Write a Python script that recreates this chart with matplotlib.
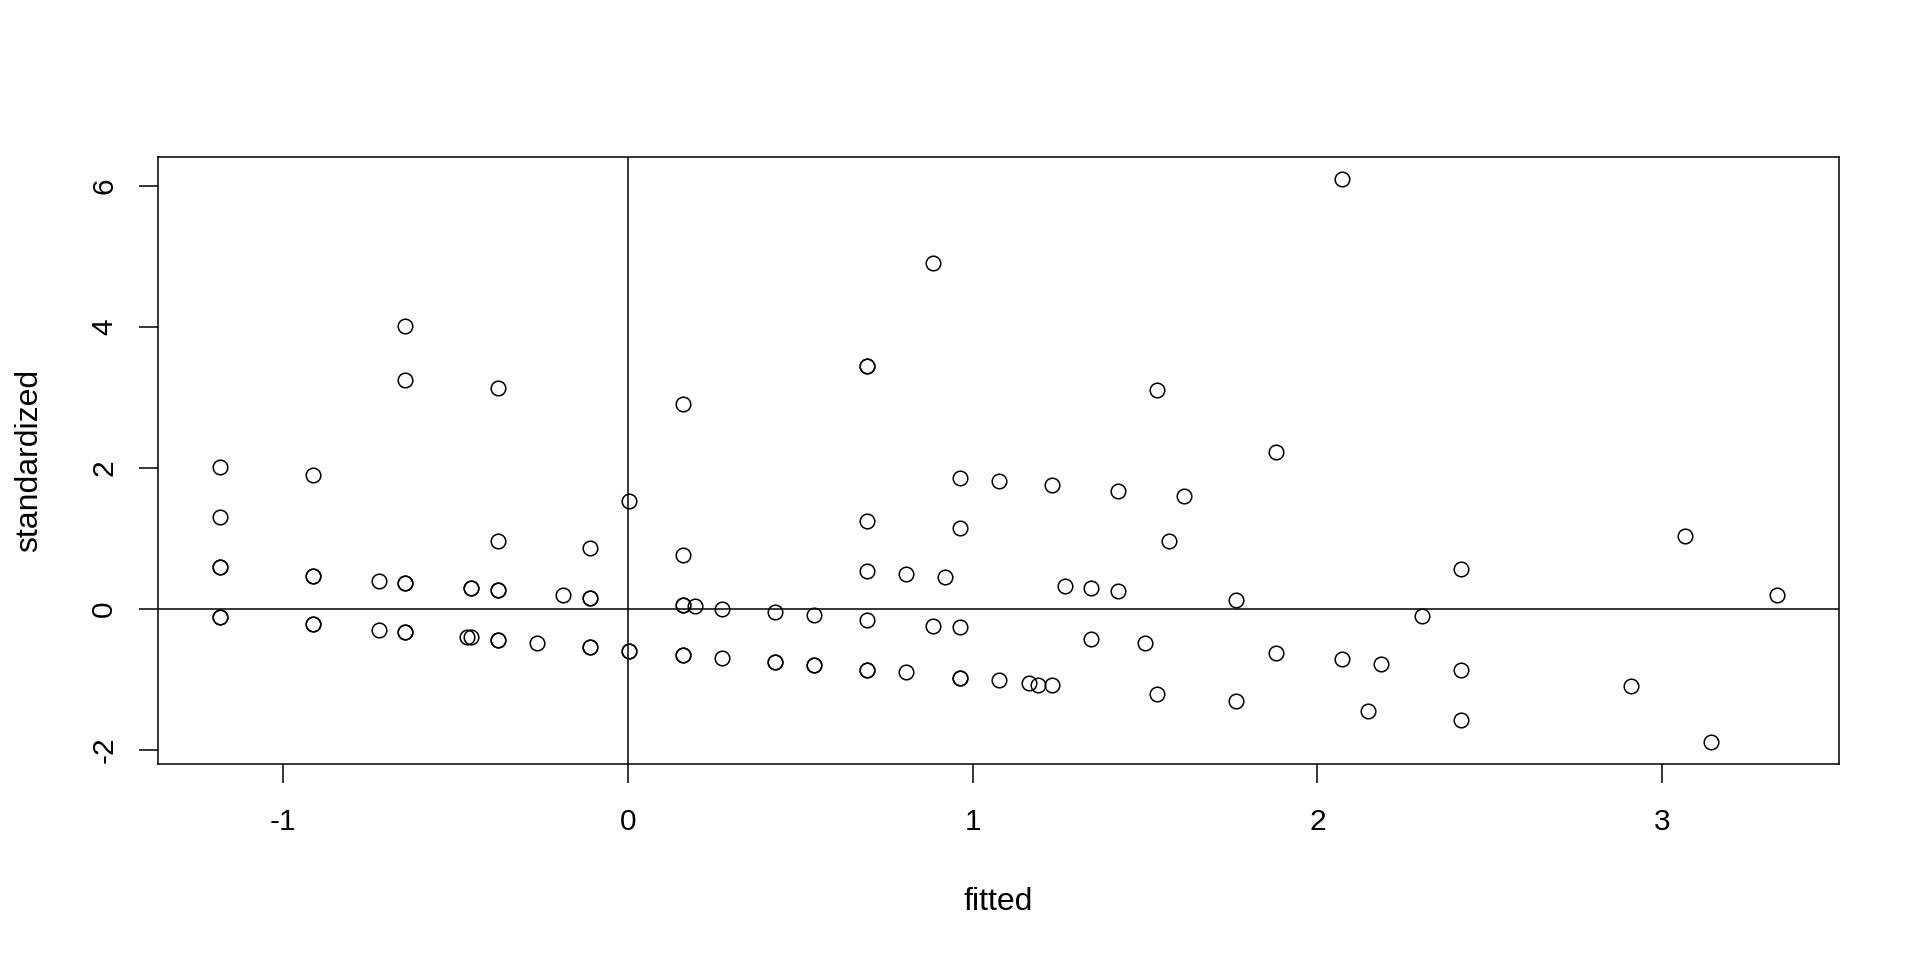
import numpy as np
import matplotlib
matplotlib.use("Agg")
import matplotlib.pyplot as plt

plt.rcParams['font.family'] = ['Liberation Sans', 'DejaVu Sans']

# ---------- data (repeated pairs = overplotted points) ----------
fitted = [
    -1.182, -1.182, -1.182, -1.182, -1.182, -1.182,
    -0.913, -0.913, -0.913, -0.913, -0.913,
    -0.723, -0.723,
    -0.646, -0.646, -0.646, -0.646, -0.646, -0.646,
    -0.456, -0.456, -0.466, -0.454,
    -0.377, -0.377, -0.377, -0.377, -0.377, -0.377,
    -0.264, -0.188,
    -0.109, -0.109, -0.109, -0.109, -0.109,
    0.003, 0.003, 0.003,
    0.159, 0.159, 0.159, 0.159, 0.159, 0.159,
    0.195, 0.272, 0.272,
    0.426, 0.426, 0.426,
    0.540, 0.540, 0.540,
    0.694, 0.694, 0.694, 0.694, 0.694, 0.694, 0.694,
    0.808, 0.808, 0.886, 0.886, 0.921,
    0.962, 0.962, 0.962, 0.962, 0.962,
    1.077, 1.077, 1.164, 1.189, 1.231, 1.231, 1.267,
    1.344, 1.344, 1.421, 1.421, 1.499, 1.534, 1.534,
    1.570, 1.612, 1.765, 1.765, 1.879, 1.879,
    2.070, 2.070, 2.148, 2.184, 2.303,
    2.415, 2.415, 2.415, 2.910, 3.065, 3.141, 3.332,
]
standardized = [
    2.01, 1.30, 0.59, 0.59, -0.12, -0.12,
    1.90, 0.47, 0.47, -0.22, -0.22,
    0.40, -0.30,
    4.01, 3.25, 0.37, 0.37, -0.33, -0.33,
    0.30, 0.30, -0.40, -0.40,
    3.13, 0.97, 0.27, 0.27, -0.44, -0.44,
    -0.48, 0.20,
    0.86, 0.16, 0.16, -0.54, -0.54,
    1.53, -0.59, -0.59,
    2.91, 0.76, 0.05, 0.05, -0.65, -0.65,
    0.04, 0.00, -0.70,
    -0.05, -0.75, -0.75,
    -0.09, -0.80, -0.80,
    3.44, 3.44, 1.25, 0.54, -0.16, -0.86, -0.86,
    0.50, -0.90, 4.91, -0.24, 0.46,
    1.86, 1.15, -0.26, -0.98, -0.98,
    1.81, -1.01, -1.05, -1.08, 1.76, -1.08, 0.32,
    0.29, -0.42, 1.67, 0.26, -0.48, 3.11, -1.21,
    0.96, 1.60, 0.12, -1.31, 2.22, -0.63,
    6.09, -0.71, -1.45, -0.78, -0.10,
    0.57, -0.86, -1.57, -1.09, 1.03, -1.88, 0.20,
]

x_ticks = [-1, 0, 1, 2, 3]
y_ticks = [-2, 0, 2, 4, 6]

x = np.array(fitted)
y = np.array(standardized)

fig = plt.figure(figsize=(19.2, 9.6), dpi=100)
ax = fig.add_axes([158 / 1920, 1 - 764 / 960, (1839 - 158) / 1920, (764 - 157) / 960])

# R-style 4% axis extension
def r_lim(v):
    span = v.max() - v.min()
    return v.min() - 0.04 * span, v.max() + 0.04 * span

ax.set_xlim(*r_lim(x))
ax.set_ylim(*r_lim(y))

ax.plot(x, y, linestyle='none', marker='o', markersize=10.5,
        markerfacecolor='none', markeredgecolor='black', markeredgewidth=1.1)
ax.axhline(0, color='black', linewidth=1.1)
ax.axvline(0, color='black', linewidth=1.1)

ax.set_xticks(x_ticks)
ax.set_yticks(y_ticks)
ax.set_xticklabels([str(t) for t in x_ticks])
ax.set_yticklabels([str(t) for t in y_ticks], rotation=90, va='center')
ax.tick_params(axis='both', direction='out', length=13.7, width=1.1,
               labelsize=21.5, colors='black')
ax.tick_params(axis='x', pad=18)
ax.tick_params(axis='y', pad=15)

for s in ax.spines.values():
    s.set_linewidth(1.1)

ax.set_xlabel("fitted", fontsize=23, labelpad=37)
ax.set_ylabel("standardized", fontsize=23, labelpad=33)

fig.savefig("out.png", dpi=100)
